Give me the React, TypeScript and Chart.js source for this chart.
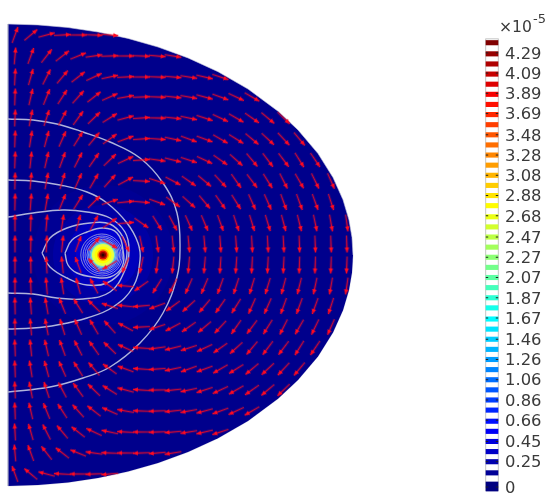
import React, { useEffect, useRef } from "react";
import { Chart, registerables } from "chart.js";

Chart.register(...registerables);

// Half-disc outline (r, z)
const rimR = [0, 30, 60, 90, 120, 150, 180, 210, 240, 270, 290, 310, 325, 335, 341, 344, 345];
const rimZ = [231, 230.1, 227.5, 223, 216.6, 208, 197.1, 183.3, 166, 143.8, 125.1, 101.4, 77.5, 55.2, 35, 17.6, 0];

// Arrow grid
const arrowR = [7, 22.8, 38.6, 54.4, 70.2, 86, 101.8, 117.6, 133.4, 149.2, 165, 180.8, 196.6, 212.4, 228.2, 244, 259.8, 275.6, 291.4, 307.2, 323, 338.8];
const arrowZ = [220, 199, 178, 158, 137, 116, 95, 74, 53, 32, 11, -10, -31, -51, -72, -93, -114, -135, -156, -177, -198, -219];
const arrowAngles = [
  [-70, -40, -15, -3, 0, 2, 5],
  [-85, -70, -52, -38, -22, -8, -2, 0, 2, 5, 9],
  [-87, -74, -63, -50, -38, -25, -12, -3, 0, 2, 5, 9, 13, 18],
  [-88, -77, -68, -57, -48, -38, -24, -10, -2, 2, 6, 10, 15, 20, 25, 30],
  [-88, -79, -72, -62, -54, -44, -32, -15, -4, 1, 6, 12, 18, 25, 30, 35, 40, 44],
  [-88, -81, -75, -66, -58, -50, -36, -20, -4, 4, 12, 20, 20, 30, 32, 40, 43, 47, 50],
  [-88, -84, -77, -70, -63, -55, -44, -25, -4, 8, 14, 18, 25, 35, 42, 50, 53, 53, 58, 56],
  [-89, -85, -79, -73, -66, -60, -48, -28, 3, 18, 28, 35, 40, 47, 55, 53, 58, 63, 60, 64, 66],
  [-89, -86, -80, -68, -58, -45, -18, -6, 5, 20, 36, 42, 50, 55, 58, 66, 66, 70, 70, 70, 72],
  [-90, -88, -85, -81, -75, -62, -35, -5, 35, 58, 62, 66, 67, 70, 72, 73, 73, 75, 76, 78, 80, 82],
  [-90, -89, -87, -84, -70, -50, 30, 65, 78, 82, 84, 85, 85, 86, 86, 87, 87, 87, 88, 88, 88, 88],
  [270, 269, 267, 264, 250, 230, 150, 115, 102, 98, 96, 95, 95, 94, 94, 93, 93, 93, 92, 92, 92, 92],
  [270, 268, 265, 261, 255, 242, 215, 185, 145, 122, 118, 114, 113, 110, 108, 107, 107, 105, 104, 102, 100, 98],
  [269, 266, 260, 248, 238, 225, 198, 186, 175, 160, 144, 138, 130, 125, 122, 114, 114, 110, 110, 110, 108],
  [269, 265, 259, 253, 246, 240, 228, 208, 177, 162, 152, 145, 140, 133, 125, 127, 122, 117, 120, 116, 114],
  [268, 264, 257, 250, 243, 235, 224, 205, 184, 172, 166, 162, 155, 145, 138, 130, 127, 127, 122, 124],
  [268, 261, 255, 246, 238, 230, 216, 200, 184, 176, 168, 160, 160, 150, 148, 140, 137, 133, 130],
  [268, 259, 252, 242, 234, 224, 212, 195, 184, 179, 174, 168, 162, 155, 150, 145, 140, 136],
  [268, 257, 248, 237, 228, 218, 204, 190, 182, 178, 174, 170, 165, 160, 155, 150],
  [267, 254, 243, 230, 218, 205, 192, 183, 180, 178, 175, 171, 167, 162],
  [265, 250, 232, 218, 202, 188, 182, 180, 178, 175, 171],
  [250, 220, 195, 183, 180, 178, 175],
];

// Contour lines
const contourA = { r: [0, 25, 49, 75, 102, 132, 155, 169, 172, 169, 155, 132, 102, 75, 42, 0], z: [136, 135, 131, 123, 113, 97, 72, 42, 5, -22, -58, -88, -112, -123, -132, -137] };
const contourB = { r: [0, 25, 52, 79, 99, 119, 130, 132, 125, 105, 79, 49, 25, 0], z: [75, 74, 70, 63, 52, 32, 12, -5, -32, -52, -63, -70, -73, -74] };
const contourC = { r: [0, 25, 55, 79, 102, 117, 121, 117, 102, 75, 49, 25, 0], z: [38, 42, 45, 43, 37, 23, 5, -15, -37, -44, -43, -39, -38] };
const contourD = { r: [34, 42, 59, 82, 102, 115, 119, 114, 99, 79, 59, 42, 34], z: [2, 17, 27, 32, 31, 18, 2, -15, -28, -30, -23, -12, 2] };
const contourE = { r: [57, 64, 79, 95, 109, 115, 114, 102, 85, 69, 60, 57], z: [2, 15, 23, 27, 22, 5, -12, -22, -22, -18, -10, 2] };
const contours = [contourA, contourB, contourC, contourD, contourE];
const ringRadii = [13, 14.3, 15.7, 17.3, 19, 21];

// Hot spot
const spotRadii = [70, 50, 36, 27, 21, 16, 13.5, 12.2, 11, 8.5, 6, 4.5, 3, 1.5];
const spotColors = ["#000094", "#0000a4", "#0000bc", "#0000d0", "#0000ec", "#0030ff", "#0090ff", "#70e0d0", "#e8ff40", "#ffff00", "#ffb000", "#e01000", "#800000", "#300000"];

// Colour legend
const tickValues = [0, 0.25, 0.45, 0.66, 0.86, 1.06, 1.26, 1.46, 1.67, 1.87, 2.07, 2.27, 2.47, 2.68, 2.88, 3.08, 3.28, 3.48, 3.69, 3.89, 4.09, 4.29];
const bandCentres = [0, 0.14, 0.25, 0.35, 0.45, 0.55, 0.65, 0.76, 0.86, 0.96, 1.06, 1.16, 1.26, 1.36, 1.46, 1.56, 1.66, 1.77, 1.87, 1.97, 2.07, 2.17, 2.27, 2.37, 2.47, 2.57, 2.67, 2.78, 2.88, 2.98, 3.08, 3.18, 3.28, 3.38, 3.48, 3.58, 3.68, 3.78, 3.88, 3.98, 4.08, 4.18, 4.28, 4.39];
const bandColors = ["#000080", "#000097", "#0000AF", "#0000C7", "#0000DE", "#0000F6", "#000FFF", "#0026FF", "#003EFF", "#0056FF", "#006EFF", "#0085FF", "#009DFF", "#00B5FF", "#00CDFF", "#00E4FF", "#00FCFF", "#15FFEA", "#2CFFD3", "#44FFBB", "#5CFFA3", "#73FF8B", "#8BFF73", "#A3FF5C", "#BBFF44", "#D2FF2D", "#EAFF15", "#FFFC00", "#FFE400", "#FFCD00", "#FFB500", "#FF9D00", "#FF8600", "#FF6E00", "#FF5600", "#FF3E00", "#FF2700", "#FF0F00", "#F60000", "#DE0000", "#C70000", "#AF0000", "#970000", "#800000"];
const exponentBase = "×10";
const exponentPower = "-5";

function makeArrowSprite() {
  const c = document.createElement("canvas");
  c.width = 19;
  c.height = 7;
  const g = c.getContext("2d")!;
  const grad = g.createLinearGradient(1, 0, 18, 0);
  grad.addColorStop(0, "rgba(230,15,40,0.75)");
  grad.addColorStop(1, "rgba(250,5,30,1)");
  g.strokeStyle = grad;
  g.lineWidth = 1.5;
  g.beginPath();
  g.moveTo(1, 3.5);
  g.lineTo(18, 3.5);
  g.stroke();
  g.fillStyle = "#ff0a20";
  g.beginPath();
  g.moveTo(18, 3.5);
  g.lineTo(13, 1.2);
  g.lineTo(13, 5.8);
  g.closePath();
  g.fill();
  return c;
}

const zip = (r: number[], z: number[]) => r.map((x, i) => ({ x, y: z[i] }));

export default function App() {
  const ref = useRef<HTMLCanvasElement>(null);
  useEffect(() => {
    const sprite = makeArrowSprite();
    const arrows = arrowAngles.flatMap((row, i) => row.map((a, k) => ({ x: arrowR[k], y: arrowZ[i], a })));
    const lineBase = { type: "line", showLine: true, pointRadius: 0, tension: 0.4, clip: false };
    const datasets: any[] = [
      // rim (upper edge filled to lower edge)
      { ...lineBase, tension: 0, data: zip(rimR, rimZ), borderColor: "#c8c8dc", borderWidth: 0.6, backgroundColor: "#00008c", fill: "+1", order: 20 },
      { ...lineBase, tension: 0, data: zip(rimR, rimZ.map((v) => -v)), borderColor: "#c8c8dc", borderWidth: 0.6, order: 21 },
      { ...lineBase, tension: 0, data: [{ x: 0, y: 231 }, { x: 0, y: -231 }], borderColor: "#a8a8c0", borderWidth: 1.2, order: 4 },
      // hot spot
      {
        type: "bubble",
        data: spotRadii.map((r) => ({ x: 95, y: 0, r })),
        backgroundColor: spotColors,
        borderWidth: 0,
        clip: false,
        order: 10,
      },
      ...contours.map((c) => ({ ...lineBase, data: zip(c.r, c.z), borderColor: "#b0b4dc", borderWidth: 1.4, order: 5 })),
      {
        type: "bubble",
        data: ringRadii.map((r) => ({ x: 95 - (r - 13) * 0.15, y: 0, r })),
        backgroundColor: "rgba(0,0,0,0)",
        borderColor: "#a8acd8",
        borderWidth: 0.8,
        clip: false,
        order: 5,
      },
      {
        type: "scatter",
        data: arrows,
        pointStyle: sprite,
        pointRadius: 5,
        pointRotation: arrows.map((p) => p.a),
        clip: false,
        order: 1,
      },
      // colour legend
      {
        type: "bar",
        yAxisID: "yBar",
        data: [{ x: 484, y: [-0.04, 4.43] }],
        barThickness: 13,
        grouped: false,
        backgroundColor: "#ffffff",
        borderColor: "#b8b8b8",
        borderWidth: 1,
        clip: false,
        order: 3,
      },
      {
        type: "bar",
        yAxisID: "yBar",
        data: bandCentres.map((v, i) => ({ x: 484, y: i === 0 ? [v - 0.04, v + 0.05] : [v - 0.022, v + 0.022] })),
        barThickness: 12,
        grouped: false,
        backgroundColor: bandColors,
        borderWidth: 0,
        clip: false,
        order: 2,
      },
      {
        type: "scatter",
        yAxisID: "yBar",
        data: tickValues.flatMap((v) => [{ x: 479, y: v }, { x: 489, y: v }]),
        pointStyle: "line",
        pointRadius: 1.2,
        borderColor: "#222222",
        borderWidth: 1,
        clip: false,
        order: 1,
      },
    ];
    const exponentPlugin = {
      id: "exponent",
      afterDraw(chart: any) {
        const g = chart.ctx;
        g.save();
        g.fillStyle = "#3a3a3a";
        g.textBaseline = "alphabetic";
        g.font = '15.6px "DejaVu Sans"';
        g.fillText(exponentBase, 499, 32);
        g.font = '13px "DejaVu Sans"';
        g.fillText(exponentPower, 533, 23);
        g.restore();
      },
    };
    const chart = new Chart(ref.current!, {
      type: "scatter",
      data: { datasets },
      plugins: [exponentPlugin],
      options: {
        animation: false,
        responsive: false,
        layout: { padding: 0, autoPadding: false },
        plugins: { legend: { display: false }, tooltip: { enabled: false } },
        scales: {
          x: { type: "linear", min: -8, max: 497, display: false, offset: false },
          y: { type: "linear", min: -239, max: 255, display: false },
          yBar: {
            type: "linear",
            position: "right",
            min: -0.069,
            max: 4.812,
            afterFit: (s: any) => {
              s.width = 46;
              s.paddingTop = 0;
              s.paddingBottom = 0;
            },
            afterBuildTicks: (s: any) => {
              s.ticks = tickValues.map((value) => ({ value }));
            },
            border: { display: false },
            grid: { display: false, drawTicks: false },
            ticks: {
              autoSkip: false,
              padding: 0,
              labelOffset: 1.5,
              color: "#3a3a3a",
              font: { family: '"DejaVu Sans"', size: 16.4 },
              callback: (v: any) => String(v),
            },
          },
        },
      } as any,
    } as any);
    return () => chart.destroy();
  }, []);
  return (
    <canvas
      ref={ref}
      width={551}
      height={494}
      style={{ position: "fixed", left: 0, top: 0, width: 551, height: 494, filter: "blur(0.7px)" }}
    />
  );
}
